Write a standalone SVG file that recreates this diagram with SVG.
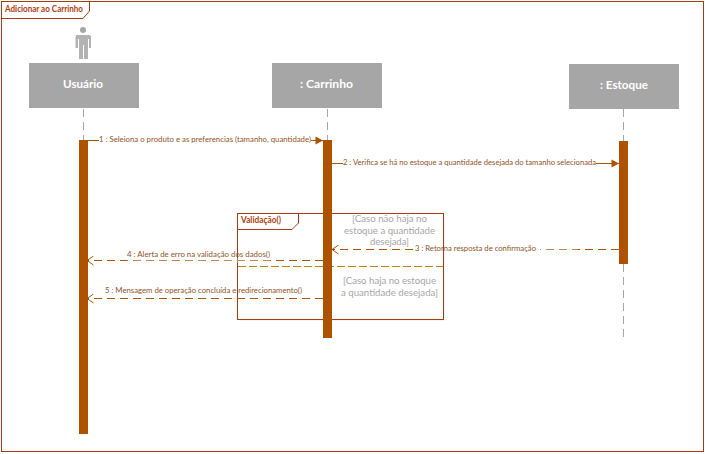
<svg xmlns="http://www.w3.org/2000/svg" width="705" height="454" viewBox="0 0 705 454">
<style>
text{font-family:"Lato","Open Sans","Liberation Sans",sans-serif}
.box{fill:#a6a6a6}
.name{fill:#fff;font-size:12px;font-weight:700;text-anchor:middle}
.life{stroke:#a6a6a6;stroke-width:1;stroke-dasharray:8 5;fill:none}
.act{fill:#ae5200}
.msg{stroke:#ae5200;stroke-width:1;fill:none}
.dash{stroke-dasharray:8 5}
.fade{fill:#fff;fill-opacity:.3}
.lbl{font-size:8px;fill:#8f5326}
.frame{fill:none;stroke:#a83c10;stroke-width:1}
.ftitle{font-size:9px;font-weight:700;fill:#b13c10}
.guard{font-size:10px;fill:#a6a6a6}
</style>
<defs>
<marker id="fill" markerUnits="userSpaceOnUse" markerWidth="10" markerHeight="10" refX="8.500" refY="5" orient="auto"><path d="M1,1L8.500,5L1,9Z" fill="#ae5200"/></marker>
<marker id="open" markerUnits="userSpaceOnUse" markerWidth="10" markerHeight="10" refX="8.500" refY="5" orient="auto"><path d="M2,0.500L8.500,5L2,9.500" fill="none" stroke="#ae5200"/></marker>
</defs>
<rect width="705" height="454" fill="#fff"/>
<g id="frame-main">
<rect class="frame" x="1.500" y="1.500" width="702" height="450"/>
<path class="frame" d="M1.500,18.500H83L89.500,11V1.500"/>
<text class="ftitle" x="5" y="12" textLength="78" lengthAdjust="spacingAndGlyphs">Adicionar ao Carrinho</text>
</g>
<g id="frame-validacao">
<rect x="239" y="215" width="206" height="106" fill="#f6f6f6"/>
<rect x="237.500" y="213.500" width="206" height="106" fill="#fff" stroke="#a83c10"/>
<path class="frame" d="M237.500,229.500H292L298.500,223V213.500"/>
<path d="M238,266.500H443" stroke="#b8860b" fill="none" stroke-dasharray="8 3"/>
<text class="ftitle" x="241" y="223" textLength="40" lengthAdjust="spacingAndGlyphs">Validação()</text>
<text class="guard" x="352" y="222" textLength="75" lengthAdjust="spacingAndGlyphs">[Caso não haja no</text>
<text class="guard" x="344" y="233.500" textLength="91" lengthAdjust="spacingAndGlyphs">estoque a quantidade</text>
<text class="guard" x="370" y="245" textLength="39" lengthAdjust="spacingAndGlyphs">desejada]</text>
<text class="guard" x="343" y="284" textLength="93" lengthAdjust="spacingAndGlyphs">[Caso haja no estoque</text>
<text class="guard" x="341" y="296" textLength="97" lengthAdjust="spacingAndGlyphs">a quantidade desejada]</text>
</g>
<g id="usuario">
<circle class="box" cx="83" cy="30" r="3"/>
<path class="box" opacity=".85" d="M77,35H89.500Q91,35 91,37V48H89V39H88V59H84V45H83V59H79V39H78V48H75.500V37Q75.500,35 77,35Z"/>
<rect class="box" x="29" y="63" width="110" height="45"/>
<text class="name" x="83" y="88" textLength="40" lengthAdjust="spacingAndGlyphs">Usuário</text>
<path class="life" d="M83.500,109V140"/>
<rect class="act" x="79" y="140" width="9" height="294"/>
</g>
<g id="carrinho">
<rect class="box" x="272" y="63" width="110" height="45"/>
<text class="name" x="326.500" y="88" textLength="53" lengthAdjust="spacingAndGlyphs">: Carrinho</text>
<path class="life" d="M327.500,109V140"/>
<rect class="act" x="323" y="140" width="9" height="198"/>
</g>
<g id="estoque">
<rect class="box" x="569" y="64" width="110" height="45"/>
<text class="name" x="624" y="89" textLength="48" lengthAdjust="spacingAndGlyphs">: Estoque</text>
<path class="life" d="M623.500,109V141M623.500,264V339"/>
<rect class="act" x="619" y="141" width="9" height="123"/>
</g>
<g id="connectors">
<path class="msg" d="M88,140.500H99"/><path class="msg" d="M311,140.500H323" marker-end="url(#fill)"/>
<text class="lbl" x="99" y="142" textLength="212" lengthAdjust="spacingAndGlyphs">1 : Seleiona o produto e as preferencias (tamanho, quantidade)</text>
<path class="msg" d="M332,163.500H343"/><path class="msg" d="M596,163.500H619" marker-end="url(#fill)"/>
<text class="lbl" x="343" y="165" textLength="253" lengthAdjust="spacingAndGlyphs">2 : Verifica se há no estoque a quantidade desejada do tamanho selecionada</text>
<path class="msg dash" d="M413,249.500H332" marker-end="url(#open)"/><path class="msg dash" d="M619,249.500H540"/>
<rect class="fade" x="538" y="247" width="40" height="5"/>
<text class="lbl" x="415" y="251" textLength="121" lengthAdjust="spacingAndGlyphs">3 : Retorna resposta de confirmação</text>
<path class="msg dash" d="M323,260.500H87" marker-end="url(#open)"/>
<rect class="fade" x="127" y="258" width="143" height="5"/>
<text class="lbl" x="127" y="257" textLength="143" lengthAdjust="spacingAndGlyphs">4 : Alerta de erro na validação dos dados()</text>
<path class="msg dash" d="M323,298.500H87" marker-end="url(#open)"/>
<text class="lbl" x="105" y="293" textLength="197" lengthAdjust="spacingAndGlyphs">5 : Mensagem de operação concluída e redirecionamento()</text>
</g>
</svg>
